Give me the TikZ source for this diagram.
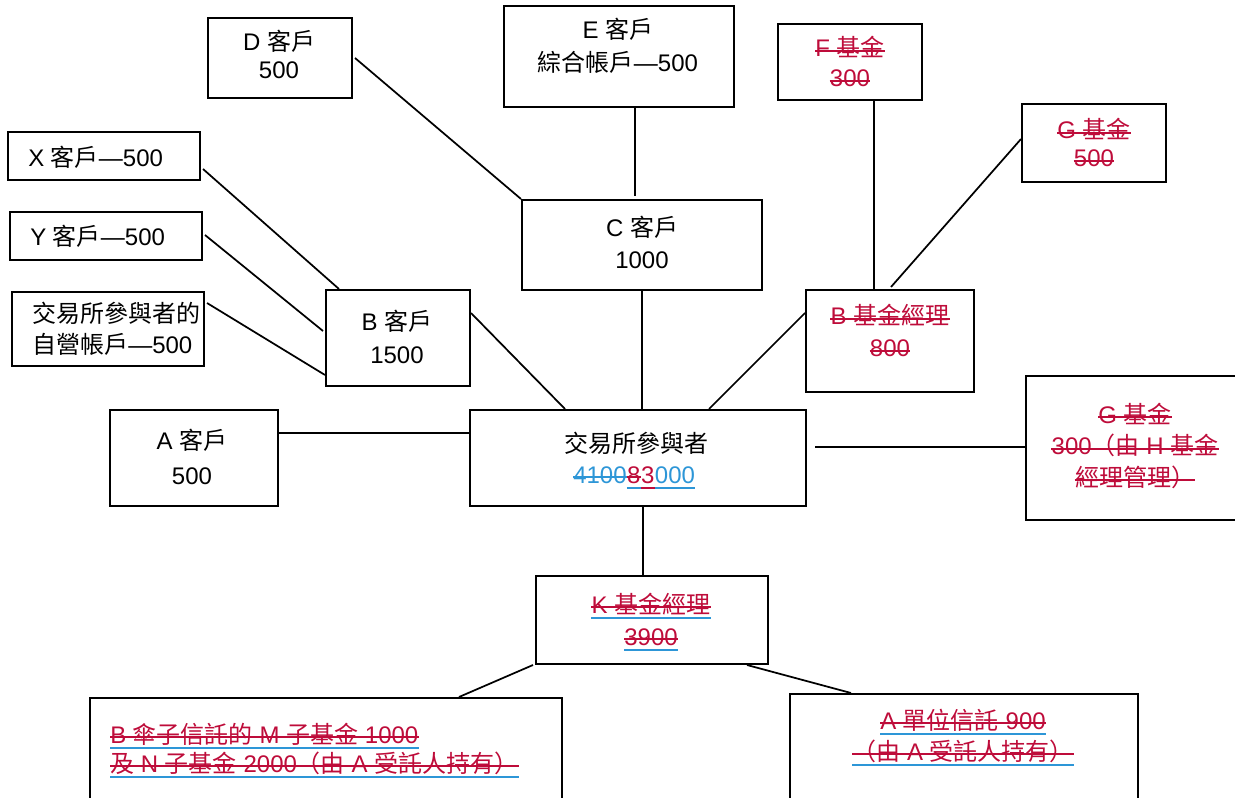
\documentclass[tikz,border=0pt]{standalone}
\usepackage{fontspec}
\setmainfont{Liberation Sans}
\newfontfamily\cjkfont{Noto Sans CJK TC}
\newcommand\zh[1]{{\cjkfont #1}}
\usetikzlibrary{fit,calc}
\definecolor{rd}{RGB}{190,12,58}
\definecolor{bl}{RGB}{45,150,215}
\tikzset{
  box/.style={draw, line width=1.5pt, inner sep=0pt},
  conn/.style={line width=1.3pt},
  txt/.style={inner sep=0pt, anchor=base},
  lt/.style={inner sep=0pt, anchor=base west},
  sk/.style={line width=1.6pt, draw=rd},
  ul/.style={line width=1.6pt, draw=bl},
}
\newcommand\strikeit[2][rd]{\draw[sk,draw=#1] ([yshift=4.3pt]#2.base west) -- ([yshift=4.3pt]#2.base east);}
\newcommand\ulit[2][bl]{\draw[ul,draw=#1] ([yshift=-3.5pt]#2.base west) -- ([yshift=-3.5pt]#2.base east);}
\begin{document}
\begin{tikzpicture}[x=0.75pt,y=-0.75pt,font=\fontsize{18}{22}\selectfont]
\useasboundingbox (0,0) rectangle (1235,798);
\clip (0,0) rectangle (1235,798);
% boxes
\node[box,fit={(208,18)(352,98)}] (D) {};
\node[box,fit={(504,6)(734,107)}] (E) {};
\node[box,fit={(778,24)(922,100)}] (F) {};
\node[box,fit={(1022,104)(1166,182)}] (Gt) {};
\node[box,fit={(8,132)(200,180)}] (X) {};
\node[box,fit={(10,212)(202,260)}] (Y) {};
\node[box,fit={(12,292)(204,366)}] (P) {};
\node[box,fit={(522,200)(762,290)}] (C) {};
\node[box,fit={(326,290)(470,386)}] (Bc) {};
\node[box,fit={(806,290)(974,392)}] (Bf) {};
\node[box,fit={(110,410)(278,506)}] (A) {};
\node[box,fit={(470,410)(806,506)}] (M) {};
\node[box,fit={(1026,376)(1250,520)}] (Gr) {};
\node[box,fit={(536,576)(768,664)}] (K) {};
\node[box,fit={(90,698)(562,830)}] (BL) {};
\node[box,fit={(790,694)(1138,830)}] (BR) {};
% connectors
\draw[conn] ($(D.east)+(2,0)$) -- (C.north west);
\draw[conn] ($(E.south west)+(132,0)$) -- ($(C.north west)+(114,-3)$);
\draw[conn] ($(F.south west)+(97,0)$) -- ($(Bf.north west)+(69,0)$);
\draw[conn] ($(Gt.north west)+(0,36)$) -- ($(Bf.north west)+(86,-2)$);
\draw[conn] ($(X.north east)+(2,38)$) -- ($(Bc.north west)+(14,0)$);
\draw[conn] ($(Y.north east)+(2,24)$) -- ($(Bc.north west)+(-2,42)$);
\draw[conn] ($(P.north east)+(2,12)$) -- ($(Bc.north west)+(0,86)$);
\draw[conn] ($(Bc.north east)+(0,24)$) -- ($(M.north west)+(96,0)$);
\draw[conn] (C.south) -- (C.south |- M.north);
\draw[conn] ($(Bf.north west)+(0,24)$) -- ($(M.north west)+(240,0)$);
\draw[conn] ($(A.north east)+(0,24)$) -- ($(M.north west)+(0,24)$);
\draw[conn] ($(M.north east)+(8,38)$) -- ($(Gr.north west)+(0,72)$);
\draw[conn] ($(M.south west)+(174,0)$) -- ($(K.north west)+(108,0)$);
\draw[conn] ($(K.south west)+(-2,0)$) -- ($(BL.north west)+(370,0)$);
\draw[conn] ($(K.south west)+(212,0)$) -- ($(BR.north west)+(62,0)$);
% texts
\node[txt] (Dt1) at (279,51) {D \zh{客戶}};
\node[txt] (Dt2) at (279,79) {500};
\node[txt] (Et1) at (618,39) {E \zh{客戶}};
\node[txt] (Et2) at (618,72) {\zh{綜合帳戶}—500};
\node[txt,text=rd] (Ft1) at (850,57) {F \zh{基金}};
\node[txt,text=rd] (Ft2) at (850,87) {300};
\strikeit{Ft1}\strikeit{Ft2}
\node[txt,text=rd] (Gt1) at (1094,139) {G \zh{基金}};
\node[txt,text=rd] (Gt2) at (1094,167) {500};
\strikeit{Gt1}\strikeit{Gt2}
\node[lt] (Xt) at (28,167) {X \zh{客戶}—500};
\node[lt] (Yt) at (30,246) {Y \zh{客戶}—500};
\node[lt] (Pt1) at (32,323) {\zh{交易所參與者的}};
\node[lt] (Pt2) at (32,354) {\zh{自營帳戶}—500};
\node[txt] (Ct1) at (642,237) {C \zh{客戶}};
\node[txt] (Ct2) at (642,269) {1000};
\node[txt] (Bct1) at (397,331) {B \zh{客戶}};
\node[txt] (Bct2) at (397,364) {1500};
\node[txt,text=rd] (Bft1) at (890,325) {B \zh{基金經理}};
\node[txt,text=rd] (Bft2) at (890,357) {800};
\strikeit{Bft1}\strikeit{Bft2}
\node[txt] (At1) at (192,450) {A \zh{客戶}};
\node[txt] (At2) at (192,484) {500};
\node[txt] (Mt1) at (636,452) {\zh{交易所參與者}};
\node[lt,text=bl] (Mn1) at (573,483) {4100};
\node[lt,text=rd] (Mn2) at (Mn1.base east) {8};
\node[lt,text=rd] (Mn3) at (Mn2.base east) {3};
\node[lt,text=bl] (Mn4) at (Mn3.base east) {000};
\strikeit[bl]{Mn1}\strikeit{Mn2}
\ulit{Mn2}\ulit[rd]{Mn3}\ulit{Mn4}
\node[txt,text=rd] (Grt1) at (1135,423) {G \zh{基金}};
\node[txt,text=rd] (Grt2) at (1135,455) {300\zh{（由} H \zh{基金}};
\node[txt,text=rd] (Grt3) at (1135,486) {\zh{經理管理）}};
\strikeit{Grt1}\strikeit{Grt2}\strikeit{Grt3}
\node[txt,text=rd] (Kt1) at (651,613) {K \zh{基金經理}};
\node[txt,text=rd] (Kt2) at (651,645) {3900};
\strikeit{Kt1}\strikeit{Kt2}\ulit{Kt1}\ulit{Kt2}
\node[lt,text=rd] (BLt1) at (110,743) {B \zh{傘子信託的} M \zh{子基金} 1000};
\node[lt,text=rd] (BLt2) at (110,772) {\zh{及} N \zh{子基金} 2000\zh{（由} A \zh{受託人持有）}};
\strikeit{BLt1}\strikeit{BLt2}\ulit{BLt1}\ulit{BLt2}
\node[txt,text=rd] (BRt1) at (963,729) {A \zh{單位信託} 900};
\node[txt,text=rd] (BRt2) at (963,760) {\zh{（由} A \zh{受託人持有）}};
\strikeit{BRt1}\strikeit{BRt2}\ulit{BRt1}\ulit{BRt2}
\end{tikzpicture}
\end{document}
